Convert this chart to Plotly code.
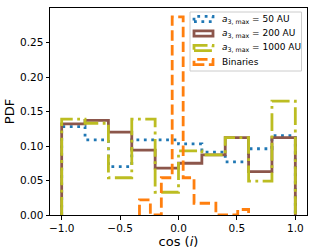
import plotly.graph_objects as go

# Data (bin edges and heights)
edges = [-1.0, -0.8, -0.6, -0.4, -0.2, 0.0, 0.2, 0.4, 0.6, 0.8, 1.0]
pdf_50 = [0.128, 0.109, 0.070, 0.109, 0.109, 0.103, 0.091, 0.077, 0.096, 0.115]
pdf_200 = [0.132, 0.137, 0.120, 0.094, 0.068, 0.075, 0.087, 0.112, 0.063, 0.112]
pdf_1000 = [0.139, 0.133, 0.054, 0.139, 0.033, 0.093, 0.087, 0.112, 0.049, 0.165]

bin_edges = [-0.334, -0.241, -0.147, -0.054, 0.040, 0.133, 0.227, 0.320, 0.413, 0.507, 0.600]
pdf_bin = [0.022, 0.0, 0.054, 0.287, 0.054, 0.017, 0.017, 0.0, 0.0, 0.008]

names = ["<i>a</i><sub>3, max</sub> = 50 AU", "<i>a</i><sub>3, max</sub> = 200 AU",
         "<i>a</i><sub>3, max</sub> = 1000 AU", "Binaries"]
colors = ["#1f77b4", "#8c564b", "#bcbd22", "#ff7f0e"]


def step_path(e, v):
    xs = [e[0]] + list(e) + [e[-1]]
    ys = [0] + list(v) + [v[-1], 0]
    return xs, ys


lw = 2.8
dashes = [f"{1*lw}px,{1.65*lw}px", "solid", f"{6.4*lw}px,{1.6*lw}px,{1*lw}px,{1.6*lw}px",
          f"{3.7*lw}px,{1.6*lw}px"]

W, H = 315, 252
ML, MR, MT, MB = 50, 8, 8, 37
PW, PH = W - ML - MR, H - MT - MB


def px(x):
    return (x - ML) / PW


def py(y):
    return (H - MB - y) / PH


fig = go.Figure()
series = [(edges, pdf_50), (edges, pdf_200), (edges, pdf_1000), (bin_edges, pdf_bin)]
for (e, v), nm, c, d in zip(series, names, colors, dashes):
    xs, ys = step_path(e, v)
    fig.add_trace(go.Scatter(x=xs, y=ys, mode="lines", name=nm, line_shape="hv",
                             line=dict(color=c, width=lw, dash=d), showlegend=False))

# Custom legend (matplotlib-like compact layout)
shapes = [dict(type="rect", xref="paper", yref="paper", layer="above",
               x0=px(190), x1=px(301.5), y0=py(71), y1=py(12),
               line=dict(color="#cccccc", width=1), fillcolor="rgba(255,255,255,0.8)")]
annotations = []
row_y = [19, 33.5, 48, 62]
for nm, c, d, yc in zip(names, colors, dashes, row_y):
    shapes.append(dict(type="rect", xref="paper", yref="paper", layer="above",
                       x0=px(194), x1=px(213), y0=py(yc + 2.6), y1=py(yc - 2.6),
                       line=dict(color=c, width=lw, dash=d), fillcolor="rgba(0,0,0,0)"))
    annotations.append(dict(x=px(220), y=py(yc), xref="paper", yref="paper",
                            text=nm, showarrow=False, xanchor="left", yanchor="middle",
                            font=dict(family="DejaVu Sans", size=9, color="black")))

font = dict(family="DejaVu Sans", size=10.5, color="black")
fig.update_layout(
    width=W, height=H,
    margin=dict(l=ML, r=MR, t=MT, b=MB),
    paper_bgcolor="white", plot_bgcolor="white",
    font=font,
    showlegend=False,
    shapes=shapes,
    annotations=annotations,
    xaxis=dict(range=[-1.1, 1.1], tickvals=[-1.0, -0.5, 0.0, 0.5, 1.0], tickformat=".1f",
               showline=True, mirror=True, linecolor="black", linewidth=1,
               ticks="outside", ticklen=3.5, tickwidth=1, tickcolor="black",
               showgrid=False, zeroline=False,
               title=dict(text="cos (<i>i</i>)", standoff=0)),
    yaxis=dict(range=[0, 0.3], tickvals=[0, 0.05, 0.1, 0.15, 0.2, 0.25], tickformat=".2f",
               showline=True, mirror=True, linecolor="black", linewidth=1,
               ticks="outside", ticklen=3.5, tickwidth=1, tickcolor="black",
               showgrid=False, zeroline=False,
               title=dict(text="PDF", standoff=2)),
)

fig.write_html("out.html", config={"displayModeBar": False},
               post_script="document.body.style.margin='0';")
